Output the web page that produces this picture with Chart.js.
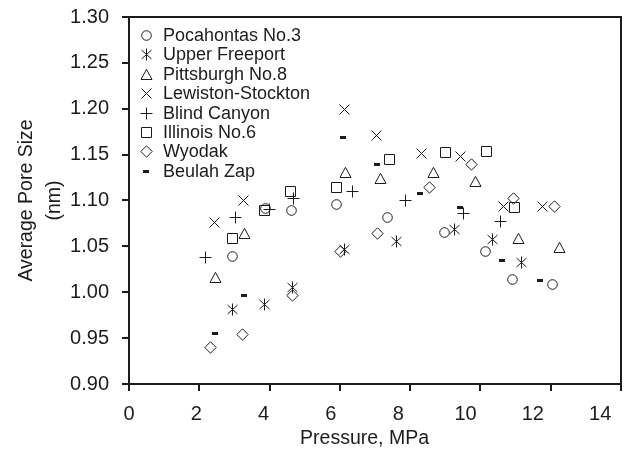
<!DOCTYPE html>
<html>
<head>
<meta charset="utf-8">
<script src="https://cdn.jsdelivr.net/npm/chart.js@4.4.0/dist/chart.umd.min.js"></script>
<style>
    html, body { margin: 0; padding: 0; background: #fff; }
    canvas { display: block; }
</style>
</head>
<body>
<canvas id="poreChart" width="644" height="458"></canvas>
<script>
// Pressure (MPa) and average pore size (nm), one pair per coal
const pocahontasP    = [2.94, 3.87, 4.63, 5.91, 7.35, 8.97, 10.15, 10.92, 12.05];
const pocahontasSize = [1.039, 1.091, 1.089, 1.096, 1.082, 1.065, 1.044, 1.014, 1.008];

const freeportP    = [2.94, 3.86, 4.65, 6.13, 7.60, 9.25, 10.35, 11.16];
const freeportSize = [0.981, 0.987, 1.005, 1.047, 1.055, 1.068, 1.057, 1.032];

const pittsburghP    = [2.45, 3.30, 6.15, 7.17, 8.66, 9.87, 11.08, 12.24];
const pittsburghSize = [1.016, 1.064, 1.131, 1.124, 1.131, 1.121, 1.059, 1.049];

const lewistonP    = [2.43, 3.25, 6.12, 7.03, 8.33, 9.44, 10.65, 11.77];
const lewistonSize = [1.076, 1.100, 1.199, 1.171, 1.151, 1.148, 1.094, 1.093];

const blindCanyonP    = [2.19, 3.04, 3.99, 4.68, 6.36, 7.87, 9.53, 10.58];
const blindCanyonSize = [1.038, 1.081, 1.090, 1.102, 1.110, 1.100, 1.086, 1.077];

const illinoisP    = [2.94, 3.86, 4.60, 5.91, 7.41, 9.01, 10.18, 10.98];
const illinoisSize = [1.059, 1.089, 1.110, 1.114, 1.145, 1.152, 1.153, 1.092];

const wyodakP    = [2.31, 3.22, 4.65, 6.02, 7.08, 8.55, 9.75, 10.94, 12.10];
const wyodakSize = [0.940, 0.954, 0.997, 1.044, 1.064, 1.114, 1.139, 1.102, 1.093];

const beulahP    = [2.45, 3.28, 6.10, 7.05, 8.28, 9.42, 10.60, 11.70];
const beulahSize = [0.955, 0.996, 1.169, 1.139, 1.108, 1.092, 1.035, 1.013];

const coalNames = ['Pocahontas No.3', 'Upper Freeport', 'Pittsburgh No.8', 'Lewiston-Stockton',
                   'Blind Canyon', 'Illinois No.6', 'Wyodak', 'Beulah Zap'];
const markerKinds = ['circle', 'asterisk', 'triangle', 'cross', 'plus', 'square', 'diamond', 'dash'];

const xTickValues = [0, 2, 4, 6, 8, 10, 12, 14];
// in the original the x labels sit a little closer together than the tick marks
const xLabelSpan = 14.62;

const INK = '#1c1c1c';
const FONT = '"Liberation Sans", Arial, sans-serif';

// small hand-drawn marker images, used both on the plot and in the legend
function makeMarker(kind) {
    const c = document.createElement('canvas');
    if (kind === 'dash') {
        c.width = 6;
        c.height = 3;
        const g = c.getContext('2d');
        g.fillStyle = INK;
        g.fillRect(0, 0, 6, 3);
        return c;
    }
    c.width = 15;
    c.height = 15;
    const g = c.getContext('2d');
    g.strokeStyle = INK;
    g.lineWidth = 1;
    g.beginPath();
    if (kind === 'circle') {
        g.arc(7.5, 7.5, 4.8, 0, Math.PI * 2);
    } else if (kind === 'triangle') {
        g.moveTo(7.5, 2.3);
        g.lineTo(13, 12.5);
        g.lineTo(2, 12.5);
        g.closePath();
    } else if (kind === 'square') {
        g.rect(2.5, 2.5, 10, 10);
    } else if (kind === 'diamond') {
        g.moveTo(7.5, 1.8);
        g.lineTo(13.2, 7.5);
        g.lineTo(7.5, 13.2);
        g.lineTo(1.8, 7.5);
        g.closePath();
    } else if (kind === 'cross') {
        g.moveTo(2.5, 2.5); g.lineTo(12.5, 12.5);
        g.moveTo(12.5, 2.5); g.lineTo(2.5, 12.5);
    } else if (kind === 'plus') {
        g.moveTo(1.5, 7.5); g.lineTo(13.5, 7.5);
        g.moveTo(7.5, 1.5); g.lineTo(7.5, 13.5);
    } else if (kind === 'asterisk') {
        g.moveTo(2.5, 3); g.lineTo(12.5, 12);
        g.moveTo(12.5, 3); g.lineTo(2.5, 12);
        g.moveTo(7.5, 1.5); g.lineTo(7.5, 13.5);
    }
    g.stroke();
    return c;
}

function toPoints(xs, ys) {
    return xs.map((x, i) => ({ x: x, y: ys[i] }));
}

const seriesData = [
    toPoints(pocahontasP, pocahontasSize),
    toPoints(freeportP, freeportSize),
    toPoints(pittsburghP, pittsburghSize),
    toPoints(lewistonP, lewistonSize),
    toPoints(blindCanyonP, blindCanyonSize),
    toPoints(illinoisP, illinoisSize),
    toPoints(wyodakP, wyodakSize),
    toPoints(beulahP, beulahSize)
];

const datasets = coalNames.map((name, i) => ({
    label: name,
    data: seriesData[i],
    pointStyle: makeMarker(markerKinds[i]),
    pointRadius: 6,
    showLine: false
}));

// keep the marker images crisp
const crispMarkers = {
    id: 'crispMarkers',
    beforeDraw(chart) {
        chart.ctx.imageSmoothingEnabled = false;
    }
};

// legend drawn inside the plot, top-left
const insideLegend = {
    id: 'insideLegend',
    afterDraw(chart) {
        const ctx = chart.ctx;
        const area = chart.chartArea;
        ctx.save();
        ctx.imageSmoothingEnabled = false;
        ctx.font = '18px ' + FONT;
        ctx.fillStyle = INK;
        ctx.textBaseline = 'middle';
        chart.data.datasets.forEach((ds, i) => {
            const y = Math.round(area.top + 18 + i * 19.4);
            const img = ds.pointStyle;
            ctx.drawImage(img, Math.round(area.left + 17 - img.width / 2), Math.round(y - img.height / 2));
            ctx.fillText(ds.label, area.left + 34, y + 1);
        });
        ctx.restore();
    }
};

// closed frame round the plot, outward tick marks, x tick labels and x title
const frameBox = {
    id: 'frameBox',
    afterDraw(chart) {
        const ctx = chart.ctx;
        const a = chart.chartArea;
        const xs = chart.scales.x;
        const ys = chart.scales.y;
        ctx.save();
        ctx.strokeStyle = INK;
        ctx.lineWidth = 2;
        ctx.strokeRect(a.left, a.top, a.right - a.left, a.bottom - a.top);

        ctx.lineWidth = 2;
        ctx.beginPath();
        xTickValues.forEach(v => {
            const px = Math.round(xs.getPixelForValue(v));
            ctx.moveTo(px, a.bottom);
            ctx.lineTo(px, a.bottom + 7);
        });
        ys.ticks.forEach(t => {
            const py = Math.round(ys.getPixelForValue(t.value));
            ctx.moveTo(a.left - 7, py);
            ctx.lineTo(a.left, py);
        });
        ctx.stroke();

        const labelX = (v) => xs.getPixelForValue(v * 14 / xLabelSpan);
        ctx.fillStyle = INK;
        ctx.textAlign = 'center';
        ctx.textBaseline = 'middle';
        ctx.font = '20px ' + FONT;
        xTickValues.forEach(v => {
            ctx.fillText(String(v), labelX(v), a.bottom + 30);
        });
        ctx.font = '19.5px ' + FONT;
        const mid = (labelX(xTickValues[0]) + labelX(xTickValues[xTickValues.length - 1])) / 2;
        ctx.fillText('Pressure, MPa', mid, a.bottom + 55);
        ctx.restore();
    }
};

new Chart(document.getElementById('poreChart'), {
    type: 'scatter',
    data: { datasets: datasets },
    options: {
        responsive: false,
        animation: false,
        devicePixelRatio: 1,
        layout: { padding: { top: 17, right: 23, left: 0, bottom: 0 } },
        plugins: {
            legend: { display: false },
            tooltip: { enabled: false }
        },
        scales: {
            x: {
                type: 'linear',
                min: 0,
                max: 14,
                afterFit: (scale) => {
                    scale.height = 74;
                    scale.paddingLeft = 0;
                    scale.paddingRight = 0;
                },
                ticks: {
                    stepSize: 2,
                    color: INK,
                    font: { family: FONT, size: 20 },
                    callback: () => ''
                },
                grid: { display: false },
                border: { display: true, color: INK, width: 2 }
            },
            y: {
                min: 0.9,
                max: 1.3,
                afterFit: (scale) => {
                    scale.width = 129;
                    scale.paddingTop = 0;
                    scale.paddingBottom = 0;
                },
                ticks: {
                    stepSize: 0.05,
                    padding: 12,
                    color: INK,
                    font: { family: FONT, size: 20 },
                    callback: (v) => v.toFixed(2)
                },
                grid: { display: false },
                border: { display: true, color: INK, width: 2 },
                title: {
                    display: true,
                    text: ['Average Pore Size', '(nm)'],
                    color: INK,
                    font: { family: FONT, size: 19.5, lineHeight: 1.45 },
                    padding: { top: 12, bottom: 0 }
                }
            }
        }
    },
    plugins: [crispMarkers, insideLegend, frameBox]
});
</script>
</body>
</html>
